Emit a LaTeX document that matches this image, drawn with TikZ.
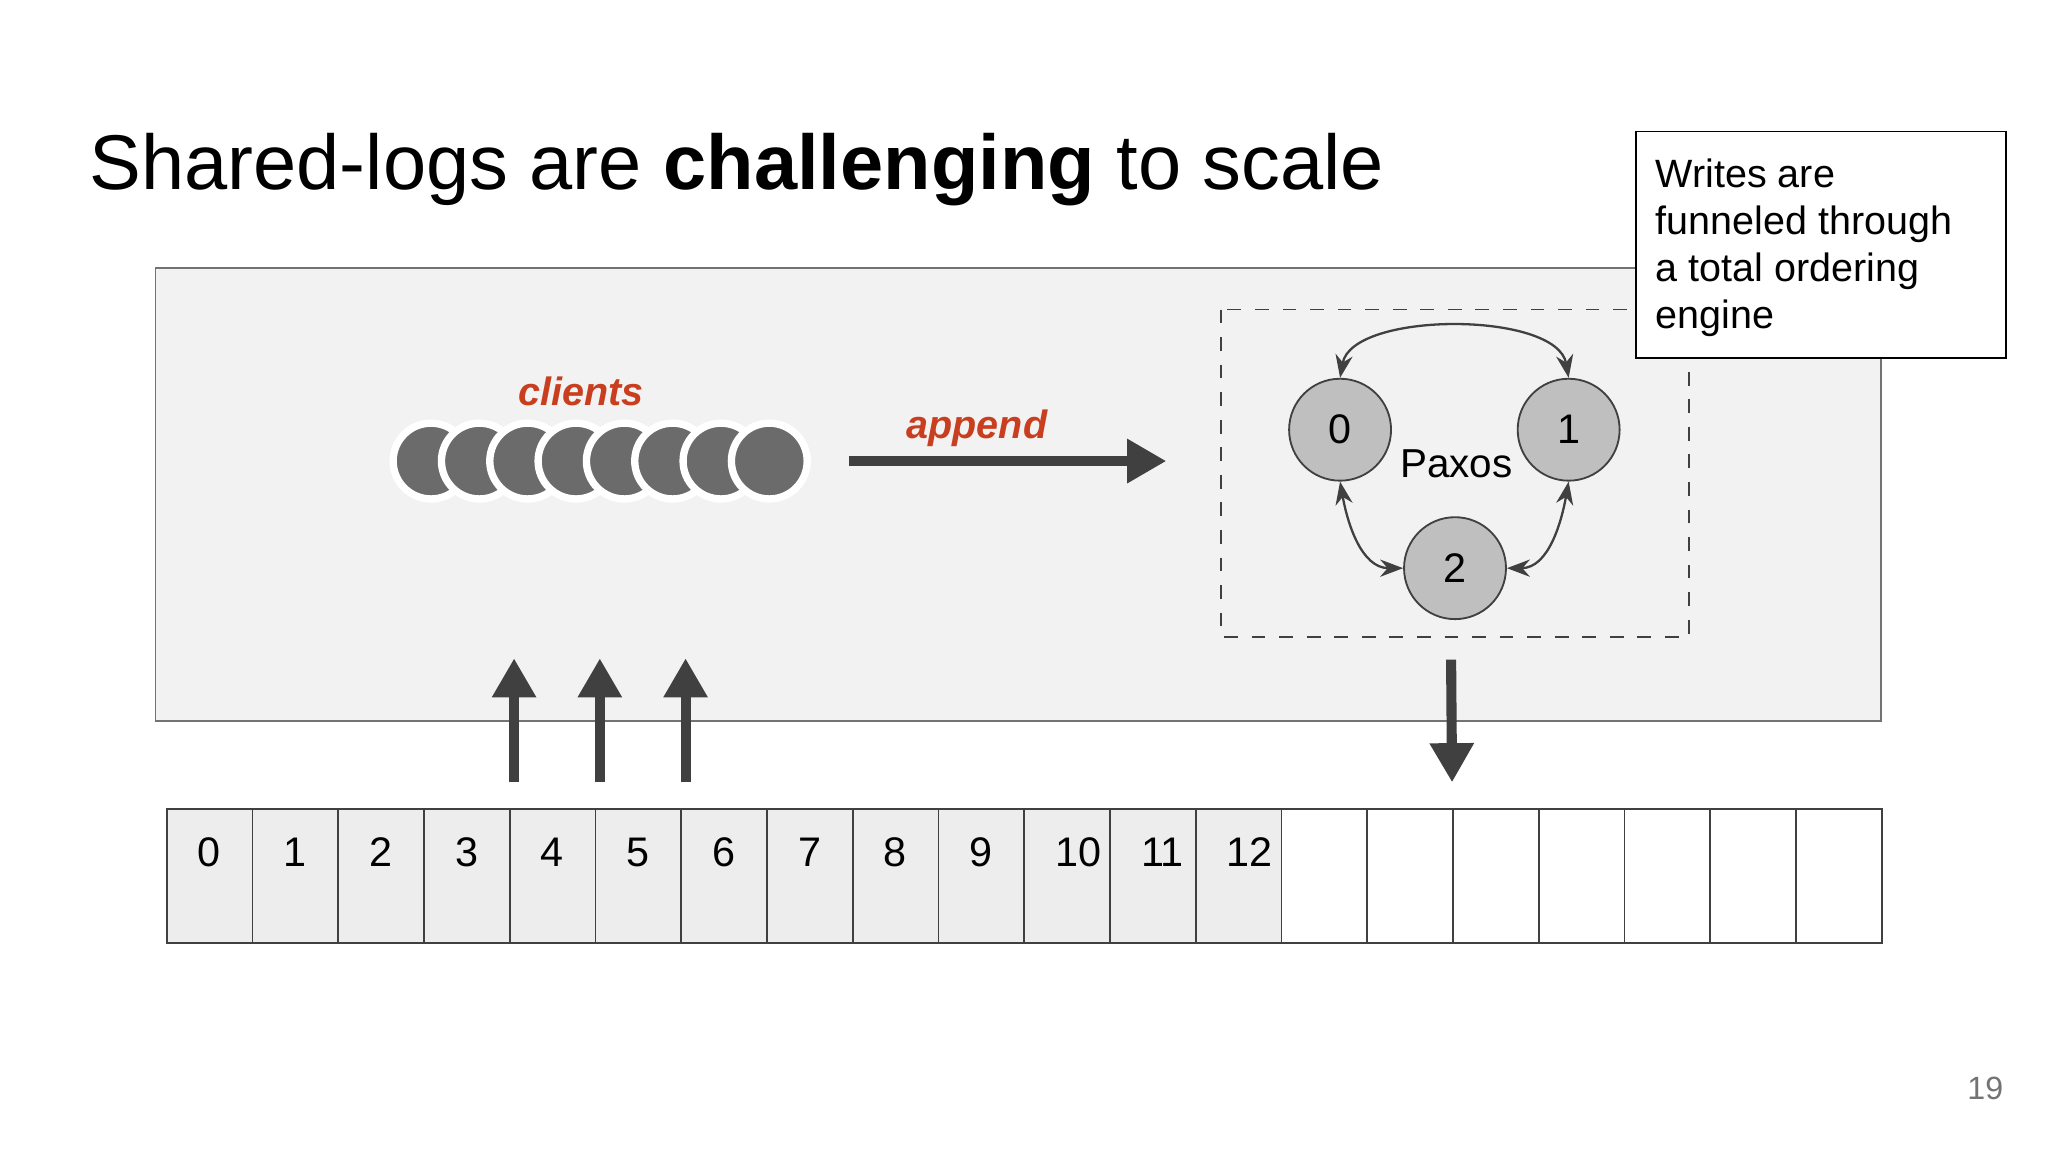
\documentclass[tikz,border=0pt]{standalone}
\usepackage{fontspec}
\setmainfont{Liberation Sans}
\usetikzlibrary{arrows.meta}
\definecolor{accent}{RGB}{200,62,30}
\definecolor{dk}{RGB}{64,64,64}
\tikzset{
  x=0.01cm,y=-0.01cm,
  paxnode/.style={circle,draw=dk,fill=black!25,minimum size=0.78cm,inner sep=0pt,font=\fontsize{9}{11}\selectfont},
  client/.style={circle,draw=white,line width=1.6pt,fill=black!58,minimum size=0.58cm,inner sep=0pt},
  bigarrow/.style={draw=dk,line width=2.2pt,-{Triangle[length=0.3cm,width=0.32cm]}},
  thinarrow/.style={draw=dk,line width=0.5pt,{Stealth[length=5pt]}-{Stealth[length=5pt]}},
  cell/.style={draw=dk,minimum width=0.6565cm,minimum height=1.02cm,inner sep=0pt,anchor=north west},
  lbl/.style={font=\fontsize{9}{11}\selectfont,anchor=north west},
  redlbl/.style={text=accent,font=\fontsize{8.6}{10}\selectfont\bfseries\itshape}
}
\begin{document}
\begin{tikzpicture}
\useasboundingbox[fill=white] (0,0) rectangle (1568,882);
\node[anchor=west,font=\fontsize{16.9}{20}\selectfont,inner sep=0pt] (title) at (68,130) {Shared-logs are \textbf{challenging} to scale};
\draw[draw=black!55,fill=black!5] (119,205) rectangle (1440,552);
\draw[dashed,draw=dk] (935,237) rectangle (1293,488);
\node[draw=black,fill=white,minimum width=2.83cm,minimum height=1.73cm,anchor=north west] (note) at (1252,100) {};
\node[anchor=north west,align=left,font=\fontsize{8.6}{10.2}\selectfont,inner sep=0pt] (notetxt) at (1267,121) {Writes are\\funneled through\\a total ordering\\engine};
\node[paxnode] (p0) at (1026,329) {0};
\node[paxnode] (p1) at (1201,329) {1};
\node[paxnode] (p2) at (1114,435) {2};
\node[font=\fontsize{8.8}{10}\selectfont] (paxos) at (1115,355) {Paxos};
\draw[thinarrow] (p0.north) .. controls (1035,238) and (1192,238) .. (p1.north);
\draw[thinarrow] (p0.south) to[out=-80,in=180] (p2.west);
\draw[thinarrow] (p1.south) to[out=-100,in=0] (p2.east);
\foreach \i in {0,...,7}{\node[client] (c\i) at (330+37*\i,353) {};}
\node[redlbl] (clients) at (445,300) {clients};
\node[redlbl] (append) at (748,328) {append};
\coordinate (a1) at (650,353); \coordinate (a2) at (893,353);
\draw[bigarrow] (a1) -- (a2);
\foreach \i in {0,...,19}{\node[cell,fill=\ifnum\i<13 black!7\else white\fi] (cell\i) at (127+65.65*\i,619) {};}
\foreach \i in {0,...,12}{\node[lbl] at ([xshift=0.12cm,yshift=-0.1cm]cell\i.north west) {\i};}
\foreach \i in {4,5,6}{\draw[bigarrow] ([xshift=0.04cm,yshift=0.2cm]cell\i.north west) -- ++(0,-95);}
\coordinate (d1) at (1111,505);
\draw[bigarrow] (d1) -- ([yshift=0.2cm]cell15.north west);
\node[text=black!55,font=\fontsize{7}{8}\selectfont] (pg) at (1520,833) {19};
\end{tikzpicture}
\end{document}
